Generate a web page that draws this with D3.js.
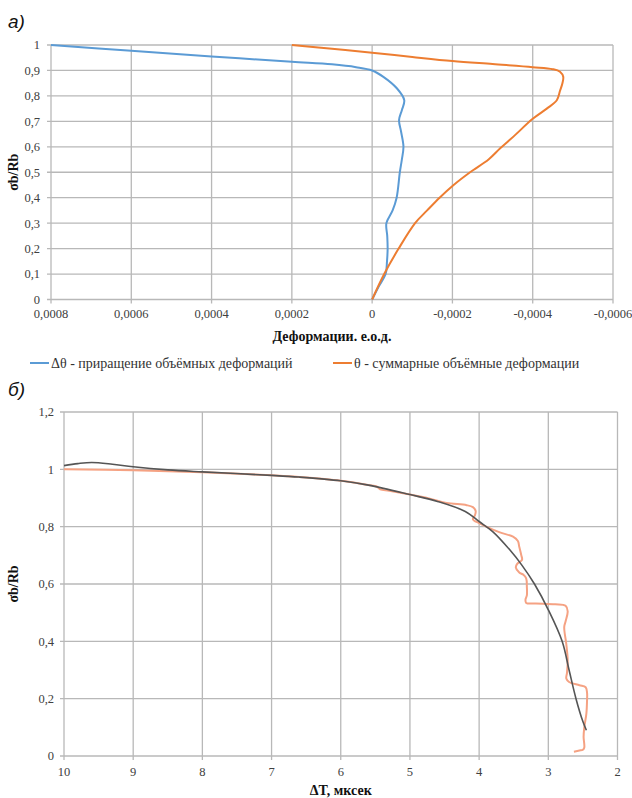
<!DOCTYPE html>
<html>
<head>
<meta charset="utf-8">
<script src="https://cdn.jsdelivr.net/npm/d3@7"></script>
<style>
  html, body { margin: 0; padding: 0; background: #fff; }
  svg { display: block; }
</style>
</head>
<body>
<svg id="chart" width="632" height="798"></svg>
<script>
// ---- Panel а): volumetric deformation vs relative stress ----
const topXTicks = [0.0008, 0.0006, 0.0004, 0.0002, 0, -0.0002, -0.0004, -0.0006];
const topYTicks = [0, 0.1, 0.2, 0.3, 0.4, 0.5, 0.6, 0.7, 0.8, 0.9, 1];

// Δθ – increment of volumetric deformation: [deformation, σb/Rb]
const deltaThetaX = [0.0008, 0.0006, 0.0004, 0.0002, 0.0001, 0.00004, 0, -0.000028, -0.0000615, -0.00008, -0.000074, -0.000067, -0.000072, -0.000078, -0.000074, -0.000069, -0.000061, -0.000051, -0.0000355, -0.0000376, -0.0000386, -0.000037, -0.0000335, -0.000016, 0];
const deltaThetaY = [1.0, 0.977, 0.955, 0.934, 0.924, 0.913, 0.9, 0.875, 0.83, 0.783, 0.744, 0.705, 0.66, 0.6, 0.55, 0.5, 0.4, 0.35, 0.3, 0.25, 0.2, 0.15, 0.1, 0.05, 0];

// θ – total volumetric deformation
const thetaX = [0.0002, 0.0001, 0, -0.0001, -0.0002, -0.0003, -0.0004, -0.00045, -0.000468, -0.000476, -0.000474, -0.000468, -0.00046, -0.000435, -0.0004, -0.000352, -0.000319, -0.00029, -0.000244, -0.000203, -0.000168, -0.000137, -0.000107, -0.000066, -0.00003, 0];
const thetaY = [1.0, 0.985, 0.97, 0.953, 0.937, 0.925, 0.913, 0.905, 0.895, 0.875, 0.85, 0.82, 0.783, 0.75, 0.71, 0.64, 0.594, 0.55, 0.5, 0.45, 0.4, 0.35, 0.3, 0.2, 0.1, 0];

const legendLabels = ["Δθ - приращение объёмных деформаций", "θ - суммарные объёмные деформации"];

// ---- Panel б): ultrasonic time vs relative stress ----
const botXTicks = [10, 9, 8, 7, 6, 5, 4, 3, 2];
const botYTicks = [0, 0.2, 0.4, 0.6, 0.8, 1, 1.2];

// measured ΔT, jagged curve
const measuredX = [10, 9, 8, 7, 6.6, 6, 5.6, 5.48, 5.43, 5.3, 5.0, 4.7, 4.47, 4.18, 4.09, 4.05, 4.06, 4.09, 4.0, 3.9, 3.7, 3.51, 3.44, 3.42, 3.39, 3.38, 3.45, 3.47, 3.42, 3.36, 3.32, 3.31, 3.31, 3.33, 3.32, 3.18, 2.9, 2.75, 2.72, 2.75, 2.77, 2.74, 2.72, 2.73, 2.74, 2.70, 2.55, 2.46, 2.44, 2.44, 2.45, 2.48, 2.49, 2.48, 2.5, 2.55, 2.63];
const measuredY = [1.0, 0.997, 0.99, 0.979, 0.973, 0.96, 0.945, 0.94, 0.93, 0.925, 0.912, 0.897, 0.883, 0.875, 0.868, 0.855, 0.84, 0.826, 0.812, 0.8, 0.78, 0.765, 0.75, 0.73, 0.7, 0.684, 0.67, 0.658, 0.64, 0.632, 0.62, 0.59, 0.56, 0.545, 0.534, 0.532, 0.529, 0.524, 0.505, 0.47, 0.45, 0.39, 0.334, 0.29, 0.27, 0.258, 0.247, 0.24, 0.22, 0.195, 0.148, 0.1, 0.066, 0.03, 0.022, 0.019, 0.015];

// approximating smooth curve
const fitX = [10, 9.8, 9.6, 9.3, 9, 8.5, 8, 7, 6.6, 6, 5.6, 5, 4.6, 4.2, 4, 3.8, 3.56, 3.38, 3.2, 3.0, 2.8, 2.7, 2.6, 2.5, 2.45];
const fitY = [1.013, 1.02, 1.024, 1.018, 1.009, 0.998, 0.991, 0.979, 0.973, 0.96, 0.945, 0.912, 0.888, 0.853, 0.818, 0.782, 0.72, 0.665, 0.6, 0.51, 0.4, 0.3, 0.2, 0.12, 0.09];

const SERIF = "'Liberation Serif', 'DejaVu Serif', 'Times New Roman', serif";
const SANS = "'Liberation Sans', Arial, sans-serif";

const svg = d3.select("#chart");
const locale = d3.formatLocale({ decimal: ",", thousands: " ", grouping: [3], currency: ["", ""], minus: "-" });
const fmtTopX = locale.format("~g");
const fmtY = locale.format(".1~f");
const fmtBotX = locale.format("d");

const gridColor = "#b8b8b8";

function drawGrid(g, x, y, xTicks, yTicks) {
  const [x0, x1] = x.range();
  const [y0, y1] = y.range();
  g.append("g").selectAll("line").data(yTicks).join("line")
    .attr("x1", x0 - 4).attr("x2", x1)
    .attr("y1", d => y(d)).attr("y2", d => y(d))
    .attr("stroke", gridColor).attr("stroke-width", 1.3);
  g.append("g").selectAll("line").data(xTicks).join("line")
    .attr("x1", d => x(d)).attr("x2", d => x(d))
    .attr("y1", y1).attr("y2", y0 + 4)
    .attr("stroke", gridColor).attr("stroke-width", 1.3);
}

function styleTick(sel) {
  sel.attr("font-family", SERIF).attr("font-size", 12.5).attr("fill", "#404040");
}

function tickLabels(g, x, y, xTicks, yTicks, fx, fy, xLabelY, yLabelX) {
  g.append("g").selectAll("text").data(yTicks).join("text")
    .call(styleTick)
    .attr("x", yLabelX).attr("y", d => y(d))
    .attr("dy", "0.35em").attr("text-anchor", "end")
    .text(fy);
  g.append("g").selectAll("text").data(xTicks).join("text")
    .call(styleTick)
    .attr("x", d => x(d)).attr("y", xLabelY)
    .attr("dy", "0.35em").attr("text-anchor", "middle")
    .text(fx);
}

function styleTitle(sel) {
  sel.attr("font-family", SERIF).attr("font-size", 14).attr("font-weight", "bold").attr("fill", "#111");
}

// ---------- Panel а ----------
const xTop = d3.scaleLinear().domain([0.0008, -0.0006]).range([51, 613]);
const yTop = d3.scaleLinear().domain([0, 1]).range([299.5, 45]);
const gTop = svg.append("g");
drawGrid(gTop, xTop, yTop, topXTicks, topYTicks);
tickLabels(gTop, xTop, yTop, topXTicks, topYTicks, fmtTopX, fmtY, 314, 40);

const lineTop = d3.line().x(d => xTop(d[0])).y(d => yTop(d[1])).curve(d3.curveCatmullRom.alpha(0.5));
gTop.append("path").datum(d3.zip(deltaThetaX, deltaThetaY))
  .attr("d", lineTop).attr("fill", "none").attr("stroke", "#5b9bd5").attr("stroke-width", 2);
gTop.append("path").datum(d3.zip(thetaX, thetaY))
  .attr("d", lineTop).attr("fill", "none").attr("stroke", "#ed7d31").attr("stroke-width", 2);

gTop.append("text").call(styleTitle)
  .attr("x", (xTop.range()[0] + xTop.range()[1]) / 2).attr("y", 336)
  .attr("dy", "0.35em").attr("text-anchor", "middle").text("Деформации. е.о.д.");
gTop.append("text").call(styleTitle)
  .attr("transform", `translate(13,${(yTop.range()[0] + yTop.range()[1]) / 2}) rotate(-90)`)
  .attr("dy", "0.35em").attr("text-anchor", "middle").text("σb/Rb");

// legend
const legendItems = [
  { label: legendLabels[0], color: "#5b9bd5", x: 30 },
  { label: legendLabels[1], color: "#ed7d31", x: 333 }
];
const lg = gTop.append("g");
legendItems.forEach(it => {
  lg.append("line").attr("x1", it.x).attr("x2", it.x + 19).attr("y1", 363).attr("y2", 363)
    .attr("stroke", it.color).attr("stroke-width", 2);
  lg.append("text").attr("font-family", SERIF).attr("font-size", 14).attr("fill", "#333")
    .attr("x", it.x + 21).attr("y", 363)
    .attr("dy", "0.35em").text(it.label);
});

svg.append("text").attr("font-family", SANS).attr("font-style", "italic").attr("font-size", 19).attr("fill", "#111")
  .attr("x", 8).attr("y", 28).text("а)");

// ---------- Panel б ----------
const xBot = d3.scaleLinear().domain([10, 2]).range([64, 617.5]);
const yBot = d3.scaleLinear().domain([0, 1.2]).range([756, 412]);
const gBot = svg.append("g");
drawGrid(gBot, xBot, yBot, botXTicks, botYTicks);
tickLabels(gBot, xBot, yBot, botXTicks, botYTicks, fmtBotX, fmtY, 772, 54);

const lineBot = d3.line().x(d => xBot(d[0])).y(d => yBot(d[1])).curve(d3.curveCatmullRom.alpha(0.5));
gBot.append("path").datum(d3.zip(measuredX, measuredY))
  .attr("d", lineBot).attr("fill", "none").attr("stroke", "#f5a283").attr("stroke-width", 2);
gBot.append("path").datum(d3.zip(fitX, fitY))
  .attr("d", lineBot).attr("fill", "none").attr("stroke", "#555555").attr("stroke-width", 1.6);

gBot.append("text").call(styleTitle)
  .attr("x", (xBot.range()[0] + xBot.range()[1]) / 2).attr("y", 790)
  .attr("dy", "0.35em").attr("text-anchor", "middle").text("ΔT, мксек");
gBot.append("text").call(styleTitle)
  .attr("transform", `translate(13,${(yBot.range()[0] + yBot.range()[1]) / 2}) rotate(-90)`)
  .attr("dy", "0.35em").attr("text-anchor", "middle").text("σb/Rb");

svg.append("text").attr("font-family", SANS).attr("font-style", "italic").attr("font-size", 19).attr("fill", "#111")
  .attr("x", 8).attr("y", 396).text("б)");
</script>
</body>
</html>
